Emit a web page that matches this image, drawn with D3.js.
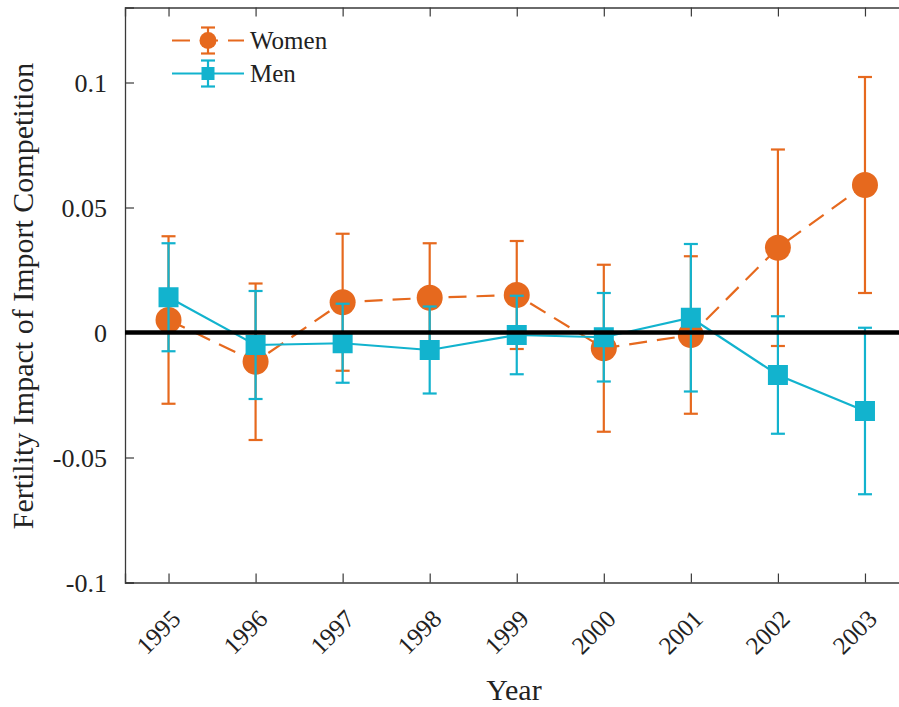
<!DOCTYPE html>
<html>
<head>
<meta charset="utf-8">
<script src="https://cdn.jsdelivr.net/npm/d3@7"></script>
<style>
  html, body { margin: 0; padding: 0; background: #fff; }
  svg { display: block; font-family: "Liberation Serif", "Times New Roman", serif; }
</style>
</head>
<body>
<svg id="chart" width="899" height="707"></svg>
<script>
// Estimated fertility impact by year, with error bar half-widths
const years = [1995, 1996, 1997, 1998, 1999, 2000, 2001, 2002, 2003];
const womenValues = [0.0050, -0.0117, 0.0121, 0.0139, 0.0150, -0.0063, -0.0010, 0.0339, 0.0590];
const womenErrors = [0.0335, 0.0313, 0.0274, 0.0218, 0.0216, 0.0334, 0.0315, 0.0393, 0.0432];
const menValues = [0.0141, -0.0050, -0.0043, -0.0070, -0.0010, -0.0019, 0.0059, -0.0170, -0.0314];
const menErrors = [0.0216, 0.0216, 0.0158, 0.0174, 0.0157, 0.0177, 0.0295, 0.0235, 0.0333];
const yTickValues = [-0.1, -0.05, 0, 0.05, 0.1];
const yTickLabels = ["-0.1", "-0.05", "0", "0.05", "0.1"];
const seriesNames = ["Women", "Men"];

const ORANGE = "#E6691E";
const CYAN = "#12B3CE";
const AXIS = "#3a3a3a";
const SERIF = '"Liberation Serif", "Times New Roman", serif';

const svg = d3.select("#chart");
const plotLeft = 125, plotTop = 7.5, plotBottom = 582.5, plotRight = 908.5;

const x = d3.scaleLinear().domain([1994.5, 2003.5]).range([plotLeft, plotRight]);
const y = d3.scaleLinear().domain([-0.1, 0.13]).range([plotBottom, plotTop]);

// Axes: ticks point inward
const gx = svg.append("g").attr("transform", `translate(0,${plotBottom})`)
  .call(d3.axisBottom(x).tickValues(years).tickSize(-9).tickFormat(d3.format("d")))
  .attr("font-family", SERIF);
gx.select(".domain").attr("stroke", AXIS).attr("stroke-width", 1.3);
gx.selectAll(".tick line").attr("stroke", AXIS).attr("stroke-width", 1.2);
gx.selectAll(".tick text")
  .attr("font-size", 25)
  .attr("fill", "#222")
  .attr("text-anchor", "end")
  .attr("y", 0).attr("dy", 0)
  .attr("transform", "translate(13,38) rotate(-45)");

const gtop = svg.append("g").attr("transform", `translate(0,${plotTop})`)
  .call(d3.axisTop(x).tickValues(years).tickSize(-9).tickFormat(""));
gtop.select(".domain").attr("stroke", AXIS).attr("stroke-width", 1.3);
gtop.selectAll(".tick line").attr("stroke", AXIS).attr("stroke-width", 1.2);

const gy = svg.append("g").attr("transform", `translate(${plotLeft},0)`)
  .call(d3.axisLeft(y).tickValues(yTickValues).tickSize(-9)
    .tickFormat((d, i) => yTickLabels[i]))
  .attr("font-family", SERIF);
gy.select(".domain").attr("stroke", AXIS).attr("stroke-width", 1.3);
gy.selectAll(".tick line").attr("stroke", AXIS).attr("stroke-width", 1.2);
gy.selectAll(".tick text")
  .attr("font-size", 26)
  .attr("fill", "#222")
  .attr("x", -18)
  .attr("dy", "0.33em");

// Axis titles
svg.append("text")
  .attr("x", 514).attr("y", 700)
  .attr("text-anchor", "middle")
  .attr("font-size", 30)
  .attr("fill", "#222")
  .text("Year");

svg.append("text")
  .attr("transform", `translate(33,${(plotTop + plotBottom) / 2 + 1}) rotate(-90)`)
  .attr("text-anchor", "middle")
  .attr("font-size", 30)
  .attr("fill", "#222")
  .text("Fertility Impact of Import Competition");

const capHalf = 7;

function drawSeries(values, errors, color, dashed, marker) {
  const g = svg.append("g");
  const pts = years.map((yr, i) => ({ yr, v: values[i], e: errors[i] }));

  // error bars
  const eb = g.selectAll("g.eb").data(pts).join("g").attr("class", "eb")
    .attr("stroke", color).attr("stroke-width", 2.2);
  eb.append("line")
    .attr("x1", d => x(d.yr)).attr("x2", d => x(d.yr))
    .attr("y1", d => y(d.v + d.e)).attr("y2", d => y(d.v - d.e));
  eb.append("line")
    .attr("x1", d => x(d.yr) - capHalf).attr("x2", d => x(d.yr) + capHalf)
    .attr("y1", d => y(d.v + d.e)).attr("y2", d => y(d.v + d.e));
  eb.append("line")
    .attr("x1", d => x(d.yr) - capHalf).attr("x2", d => x(d.yr) + capHalf)
    .attr("y1", d => y(d.v - d.e)).attr("y2", d => y(d.v - d.e));

  // connecting line
  g.append("path")
    .datum(pts)
    .attr("fill", "none")
    .attr("stroke", color)
    .attr("stroke-width", 2.2)
    .attr("stroke-dasharray", dashed ? "18,10" : null)
    .attr("d", d3.line().x(d => x(d.yr)).y(d => y(d.v)));

  // markers
  if (marker === "circle") {
    g.selectAll("circle.m").data(pts).join("circle").attr("class", "m")
      .attr("cx", d => x(d.yr)).attr("cy", d => y(d.v)).attr("r", 13)
      .attr("fill", color);
  } else {
    g.selectAll("rect.m").data(pts).join("rect").attr("class", "m")
      .attr("x", d => x(d.yr) - 10).attr("y", d => y(d.v) - 10)
      .attr("width", 20).attr("height", 20)
      .attr("fill", color);
  }
}

drawSeries(womenValues, womenErrors, ORANGE, true, "circle");
drawSeries(menValues, menErrors, CYAN, false, "square");

// zero reference line
svg.append("line")
  .attr("x1", plotLeft).attr("x2", plotRight)
  .attr("y1", y(0)).attr("y2", y(0))
  .attr("stroke", "#000").attr("stroke-width", 4.5);

// Legend
const legend = svg.append("g");
const legendRows = [
  { name: seriesNames[0], color: ORANGE, dashed: true, marker: "circle", cy: 40.5 },
  { name: seriesNames[1], color: CYAN, dashed: false, marker: "square", cy: 73.5 }
];
legendRows.forEach(r => {
  const g = legend.append("g");
  g.append("line")
    .attr("x1", 172).attr("x2", 244).attr("y1", r.cy).attr("y2", r.cy)
    .attr("stroke", r.color).attr("stroke-width", 2.2)
    .attr("stroke-dasharray", r.dashed ? "18,10" : null);
  const a = r.cy - 13, b = r.cy + 13;
  g.append("line").attr("x1", 208).attr("x2", 208).attr("y1", a).attr("y2", b)
    .attr("stroke", r.color).attr("stroke-width", 2.2);
  g.append("line").attr("x1", 201).attr("x2", 215).attr("y1", a).attr("y2", a)
    .attr("stroke", r.color).attr("stroke-width", 2.2);
  g.append("line").attr("x1", 201).attr("x2", 215).attr("y1", b).attr("y2", b)
    .attr("stroke", r.color).attr("stroke-width", 2.2);
  if (r.marker === "circle") {
    g.append("circle").attr("cx", 208).attr("cy", r.cy).attr("r", 8.5).attr("fill", r.color);
  } else {
    g.append("rect").attr("x", 201.5).attr("y", r.cy - 6.5).attr("width", 13).attr("height", 13)
      .attr("fill", r.color);
  }
  g.append("text")
    .attr("x", 250).attr("y", r.cy + 8.5)
    .attr("font-size", 25)
    .attr("fill", "#222")
    .text(r.name);
});
</script>
</body>
</html>
